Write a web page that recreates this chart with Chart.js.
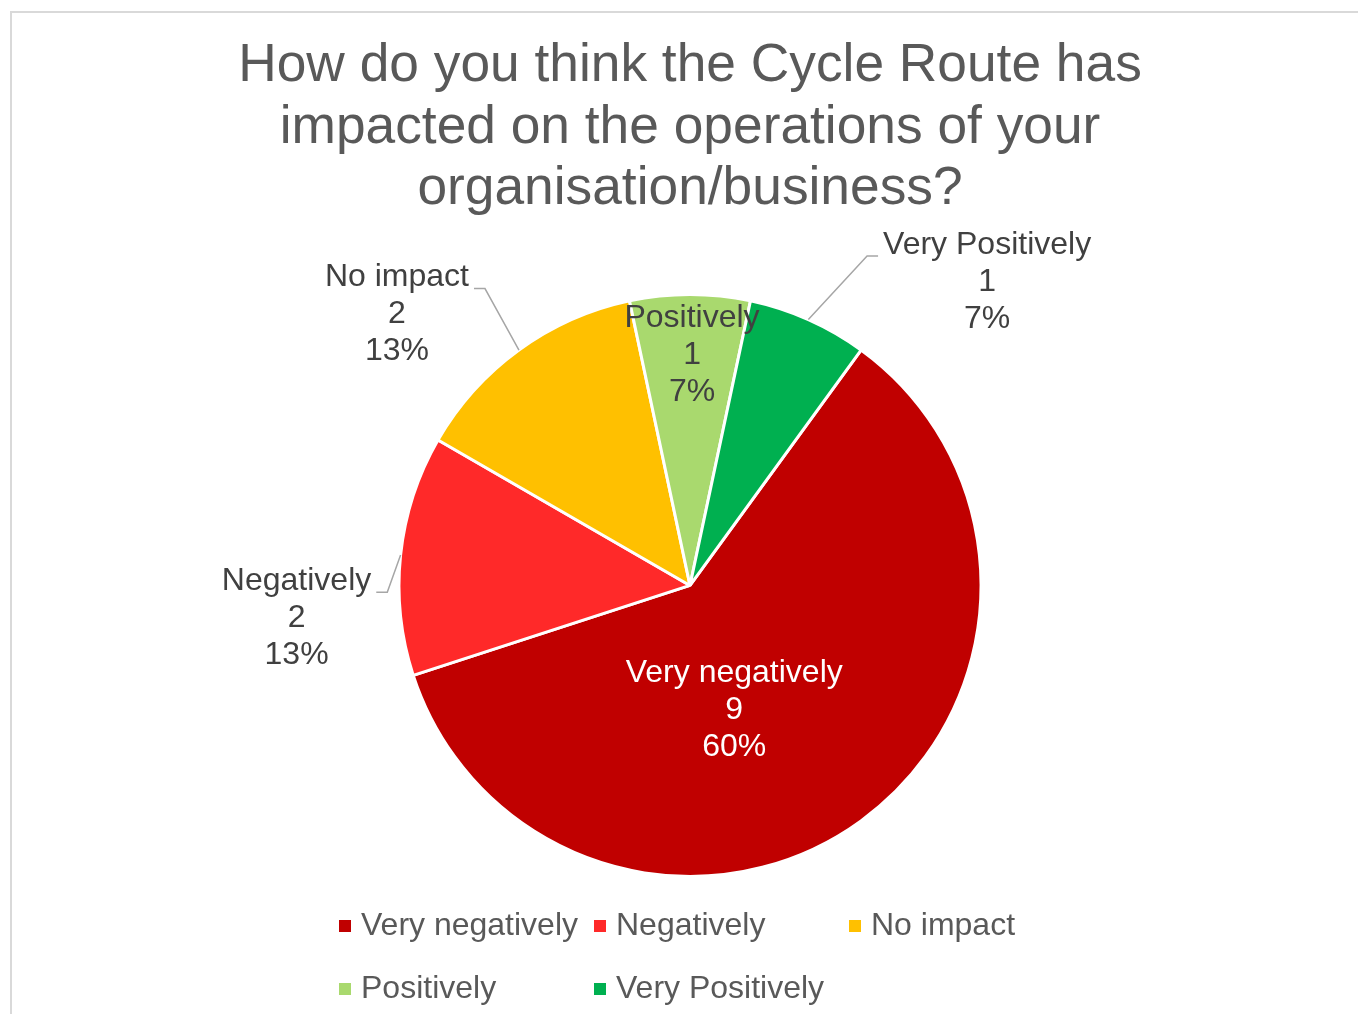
<!DOCTYPE html>
<html>
<head>
<meta charset="utf-8">
<script src="https://cdn.jsdelivr.net/npm/chart.js@4.4.1/dist/chart.umd.min.js"></script>
<style>
html, body { margin: 0; padding: 0; background: #fff; overflow: hidden; }
#frame { position: absolute; left: 10px; top: 11px; width: 1400px; height: 1100px; border-left: 2px solid #d9d9d9; border-top: 2px solid #d9d9d9; }
#wrap { position: absolute; left: 11px; top: 12px; width: 1358px; height: 1002px; }
</style>
</head>
<body>
<div id="frame"></div>
<div id="wrap"><canvas id="chart"></canvas></div>
<script>
const labels = ["Very negatively", "Negatively", "No impact", "Positively", "Very Positively"];
const counts = [9, 2, 2, 1, 1];
const colors = ["#C00000", "#FF2929", "#FFC000", "#A9D96E", "#00B050"];
const titleLines = ["How do you think the Cycle Route has", "impacted on the operations of your", "organisation/business?"];

const FONT = "'Liberation Sans', Arial, sans-serif";
const total = counts.reduce((a, b) => a + b, 0);

// where each data label sits, as a fraction of the radius from the pie centre
const labelSpots = [
    {dx: 0.152, dy: 0.430, inside: true, color: "#ffffff"},
    {dx: -1.352, dy: 0.113},
    {dx: -1.007, dy: -0.931},
    {dx: 0.007, dy: -0.793, inside: true},
    {dx: 1.021, dy: -1.043}
];

const pieLabels = {
    id: "pieLabels",
    afterDatasetsDraw(chart) {
        const ctx = chart.ctx;
        const arcs = chart.getDatasetMeta(0).data;
        const lh = 37;
        ctx.save();
        ctx.font = "32px " + FONT;
        ctx.textAlign = "center";
        ctx.textBaseline = "middle";
        arcs.forEach((arc, i) => {
            const spot = labelSpots[i];
            const r = arc.outerRadius;
            const cx = arc.x + spot.dx * r;
            const cy = arc.y + spot.dy * r;
            const lines = [labels[i], String(counts[i]), Math.round(counts[i] / total * 100) + "%"];
            if (!spot.inside) {
                // leader line from the middle of the arc to the label
                const mid = (arc.startAngle + arc.endAngle) / 2;
                const ex = arc.x + Math.cos(mid) * r;
                const ey = arc.y + Math.sin(mid) * r;
                const half = ctx.measureText(lines[0]).width / 2;
                const side = cx > arc.x ? 1 : -1;
                const edge = cx - side * half;
                const ly = cy - lh + 11;
                ctx.strokeStyle = "#A6A6A6";
                ctx.lineWidth = 1.5;
                ctx.beginPath();
                ctx.moveTo(ex, ey);
                ctx.lineTo(edge - side * 16, ly);
                ctx.lineTo(edge - side * 5, ly);
                ctx.stroke();
            }
            ctx.fillStyle = spot.color || "#404040";
            lines.forEach((t, k) => ctx.fillText(t, cx, cy + (k - 1) * lh));
        });
        ctx.restore();
    }
};

const gridLegend = {
    id: "gridLegend",
    afterDraw(chart) {
        const ctx = chart.ctx;
        ctx.save();
        ctx.font = "32px " + FONT;
        ctx.textAlign = "left";
        ctx.textBaseline = "middle";
        labels.forEach((t, i) => {
            const col = i % 3, row = Math.floor(i / 3);
            const x = 328 + col * 255;
            const y = 914 + row * 63;
            ctx.fillStyle = colors[i];
            ctx.fillRect(x, y - 6, 12, 12);
            ctx.fillStyle = "#595959";
            ctx.fillText(t, x + 22, y);
        });
        ctx.restore();
    }
};

new Chart(document.getElementById("chart"), {
    type: "pie",
    data: {
        labels: labels,
        datasets: [{
            data: counts,
            backgroundColor: colors,
            borderColor: "#ffffff",
            borderWidth: 3
        }]
    },
    options: {
        responsive: true,
        maintainAspectRatio: false,
        animation: false,
        rotation: 36,
        radius: 291,
        layout: { padding: { bottom: 139 } },
        plugins: {
            legend: { display: false },
            tooltip: { enabled: false },
            title: {
                display: true,
                text: titleLines,
                color: "#595959",
                font: { family: FONT, size: 53.3, weight: "normal", lineHeight: 1.15 },
                padding: { top: 24, bottom: 76 }
            }
        }
    },
    plugins: [pieLabels, gridLegend]
});
</script>
</body>
</html>
